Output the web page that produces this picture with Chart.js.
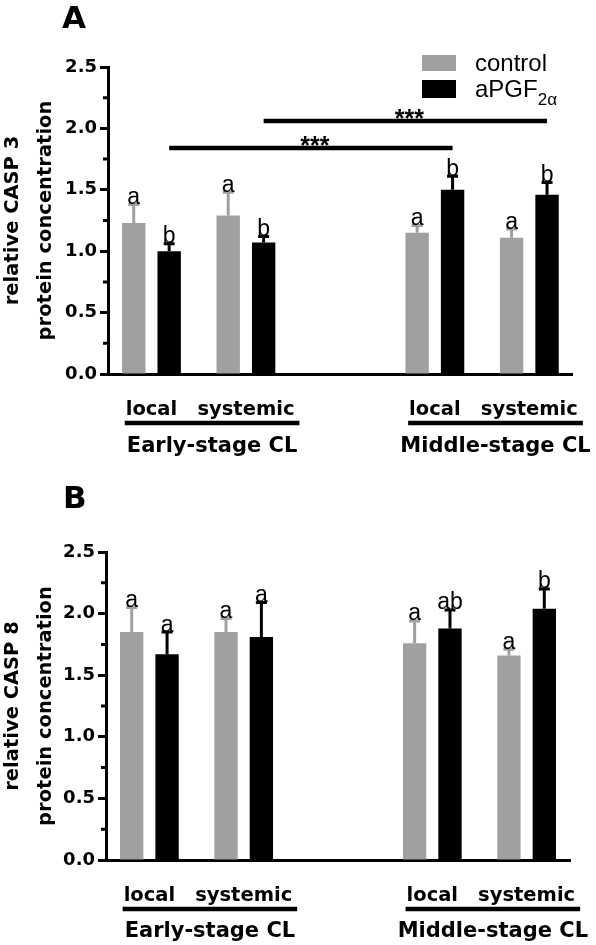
<!DOCTYPE html>
<html>
<head>
<meta charset="utf-8">
<script src="https://cdn.jsdelivr.net/npm/chart.js@4.4.1/dist/chart.umd.min.js"></script>
<style>
  html, body { margin: 0; padding: 0; background: #fff; }
  body { width: 596px; height: 945px; position: relative; overflow: hidden; }
  canvas { position: absolute; left: 0; }
  #casp3 { top: 0; }
  #casp8 { top: 470px; }
</style>
</head>
<body>
<canvas id="casp3" width="596" height="465"></canvas>
<canvas id="casp8" width="596" height="475"></canvas>
<script>
// categories on the x axis ('' = empty slot between the two stages)
const categories = ['local', 'systemic', '', 'local', 'systemic'];
const stageLabels = ['Early-stage CL', 'Middle-stage CL'];
const stageMembers = [[0, 1], [3, 4]];
const seriesNames = ['control', 'aPGF'];
const seriesSubs = ['', '2α'];
const yTicks = [0, 0.5, 1.0, 1.5, 2.0, 2.5];
const yMinorTicks = [0.25, 0.75, 1.25, 1.75, 2.25];

// panel A: CASP 3
const casp3Control = [1.23, 1.29, null, 1.15, 1.11];
const casp3ControlSem = [0.15, 0.19, null, 0.06, 0.07];
const casp3Apgf = [1.00, 1.07, null, 1.50, 1.46];
const casp3ApgfSem = [0.06, 0.05, null, 0.11, 0.10];
const casp3ControlLetters = ['a', 'a', '', 'a', 'a'];
const casp3ApgfLetters = ['b', 'b', '', 'b', 'b'];
// [from category, to category, level, label] between aPGF bars
const casp3Sig = [[0, 3, 1.84, '***'], [1, 4, 2.06, '***']];

// panel B: CASP 8
const casp8Control = [1.85, 1.85, null, 1.76, 1.66];
const casp8ControlSem = [0.20, 0.11, null, 0.18, 0.05];
const casp8Apgf = [1.67, 1.81, null, 1.88, 2.04];
const casp8ApgfSem = [0.18, 0.28, null, 0.15, 0.16];
const casp8ControlLetters = ['a', 'a', '', 'a', 'a'];
const casp8ApgfLetters = ['a', 'a', '', 'ab', 'b'];

const GRAY = '#a0a0a0';
const BOLD = "'DejaVu Sans', sans-serif";
const SANS = "'Liberation Sans', Arial, sans-serif";

const toPoints = (vals) => vals.map((v, i) => ({ x: i, y: v }));

const makeDecorations = (o) => ({
  id: 'decorations',
  afterDatasetsDraw(chart) {
    const { ctx } = chart;
    const y = chart.scales.y;
    chart.data.datasets.forEach((ds, di) => {
      const meta = chart.getDatasetMeta(di);
      meta.data.forEach((bar, i) => {
        const v = ds.data[i].y;
        if (v == null) return;
        const top = y.getPixelForValue(v + ds.sem[i]);
        ctx.save();
        ctx.strokeStyle = ds.backgroundColor;
        ctx.lineWidth = 3;
        ctx.beginPath();
        ctx.moveTo(bar.x, bar.y);
        ctx.lineTo(bar.x, top);
        ctx.moveTo(bar.x - 5.5, top);
        ctx.lineTo(bar.x + 5.5, top);
        ctx.stroke();
        ctx.fillStyle = '#000';
        ctx.font = '23px ' + SANS;
        ctx.textAlign = 'center';
        ctx.textBaseline = 'alphabetic';
        ctx.fillText(ds.letters[i], bar.x, top - 0.5);
        ctx.restore();
      });
    });
  },
  afterDraw(chart) {
    const { ctx, chartArea } = chart;
    const x = chart.scales.x, y = chart.scales.y;
    ctx.save();
    ctx.strokeStyle = '#000';
    ctx.fillStyle = '#000';

    // minor y ticks
    ctx.lineWidth = 3;
    ctx.beginPath();
    yMinorTicks.forEach(v => {
      const py = y.getPixelForValue(v);
      ctx.moveTo(chartArea.left - 5, py);
      ctx.lineTo(chartArea.left, py);
    });
    ctx.stroke();

    // significance lines between aPGF bars
    const apgfMeta = chart.getDatasetMeta(1);
    (o.sig || []).forEach(([a, b, level, label]) => {
      const py = y.getPixelForValue(level);
      const x1 = apgfMeta.data[a].x, x2 = apgfMeta.data[b].x;
      ctx.lineWidth = 4.5;
      ctx.beginPath();
      ctx.moveTo(x1, py);
      ctx.lineTo(x2, py);
      ctx.stroke();
      ctx.font = 'bold 25px ' + SANS;
      ctx.textAlign = 'center';
      ctx.textBaseline = 'alphabetic';
      ctx.fillText(label, (x1 + x2) / 2 + 4, py + 6);
    });

    // stage brackets under the tick labels
    const tickFont = 'bold 19.5px ' + BOLD;
    stageLabels.forEach((label, si) => {
      const [a, b] = stageMembers[si];
      ctx.font = tickFont;
      const wa = ctx.measureText(categories[a]).width;
      const wb = ctx.measureText(categories[b]).width;
      const x1 = x.getPixelForValue(a) - wa / 2 - 1;
      const x2 = x.getPixelForValue(b) + wb / 2 + 5;
      const ly = chartArea.bottom + 49;
      ctx.lineWidth = 4.5;
      ctx.beginPath();
      ctx.moveTo(x1, ly);
      ctx.lineTo(x2, ly);
      ctx.stroke();
      ctx.font = 'bold 21px ' + BOLD;
      ctx.textAlign = 'center';
      ctx.textBaseline = 'alphabetic';
      ctx.fillText(label, (x1 + x2) / 2, chartArea.bottom + o.stageBase);
    });

    // legend
    if (o.legend) {
      const boxes = [[55, 16], [80, 18]];
      chart.data.datasets.forEach((ds, di) => {
        ctx.fillStyle = ds.backgroundColor;
        ctx.fillRect(422, boxes[di][0], 34, boxes[di][1]);
        ctx.fillStyle = '#000';
        ctx.textAlign = 'left';
        ctx.textBaseline = 'alphabetic';
        ctx.font = '24px ' + SANS;
        const base = di === 0 ? 71 : 97;
        ctx.fillText(seriesNames[di], 475, base);
        if (seriesSubs[di]) {
          const w = ctx.measureText(seriesNames[di]).width;
          ctx.font = '17px ' + SANS;
          ctx.fillText(seriesSubs[di], 475 + w, base + 8);
        }
      });
    }

    // panel letter
    ctx.fillStyle = '#000';
    ctx.font = 'bold 31px ' + BOLD;
    ctx.textAlign = 'left';
    ctx.textBaseline = 'alphabetic';
    ctx.fillText(o.letter, o.letterX, o.letterY);
    ctx.restore();
  }
});

const panelChart = (id, o) => new Chart(document.getElementById(id), {
  type: 'bar',
  data: {
    datasets: [
      { label: seriesNames[0] + seriesSubs[0], data: toPoints(o.control), sem: o.controlSem,
        letters: o.controlLetters, backgroundColor: GRAY, categoryPercentage: 0.75, barPercentage: 0.66 },
      { label: seriesNames[1] + seriesSubs[1], data: toPoints(o.apgf), sem: o.apgfSem,
        letters: o.apgfLetters, backgroundColor: '#000', categoryPercentage: 0.75, barPercentage: 0.66 }
    ]
  },
  options: {
    responsive: false,
    animation: false,
    devicePixelRatio: 1,
    layout: { padding: { left: 0, top: o.top, right: o.right, bottom: 0 } },
    plugins: { legend: { display: false }, tooltip: { enabled: false } },
    scales: {
      x: {
        type: 'linear',
        offset: false,
        min: -0.46,
        max: 4.46,
        grid: { display: false, offset: false },
        border: { color: '#000', width: 3 },
        afterBuildTicks: (s) => {
          s.ticks = categories.map((c, i) => ({ value: i, c })).filter(t => t.c);
        },
        afterFit: (s) => { s.height = o.xHeight; },
        ticks: {
          autoSkip: false, maxRotation: 0, minRotation: 0, color: '#000', padding: 16,
          font: { family: BOLD, size: 19.5, weight: 'bold' },
          callback: (v) => categories[v]
        }
      },
      y: {
        min: 0,
        max: 2.5,
        afterBuildTicks: (s) => { s.ticks = yTicks.map(v => ({ value: v })); },
        afterFit: (s) => { s.width = o.left; },
        grid: { drawOnChartArea: false, drawTicks: true, tickLength: 8, tickWidth: 3, color: '#000' },
        border: { color: '#000', width: 3 },
        ticks: {
          color: '#000', padding: 3,
          font: { family: BOLD, size: 18, weight: 'bold' },
          callback: (v) => v.toFixed(1)
        },
        title: {
          display: true,
          text: o.yTitle,
          color: '#000',
          padding: { top: -4, bottom: 0 },
          font: { family: BOLD, size: 19.5, weight: 'bold', lineHeight: '33px' }
        }
      }
    }
  },
  plugins: [makeDecorations(o)]
});

panelChart('casp3', {
  control: casp3Control, controlSem: casp3ControlSem, controlLetters: casp3ControlLetters,
  apgf: casp3Apgf, apgfSem: casp3ApgfSem, apgfLetters: casp3ApgfLetters,
  sig: casp3Sig, legend: true,
  yTitle: ['relative CASP 3', 'protein concentration'],
  left: 108, top: 67, right: 23, xHeight: 91, stageBase: 78,
  letter: 'A', letterX: 62, letterY: 28
});

panelChart('casp8', {
  control: casp8Control, controlSem: casp8ControlSem, controlLetters: casp8ControlLetters,
  apgf: casp8Apgf, apgfSem: casp8ApgfSem, apgfLetters: casp8ApgfLetters,
  sig: [], legend: false,
  yTitle: ['relative CASP 8', 'protein concentration'],
  left: 106, top: 82, right: 26, xHeight: 85, stageBase: 77,
  letter: 'B', letterX: 63, letterY: 38
});
</script>
</body>
</html>
